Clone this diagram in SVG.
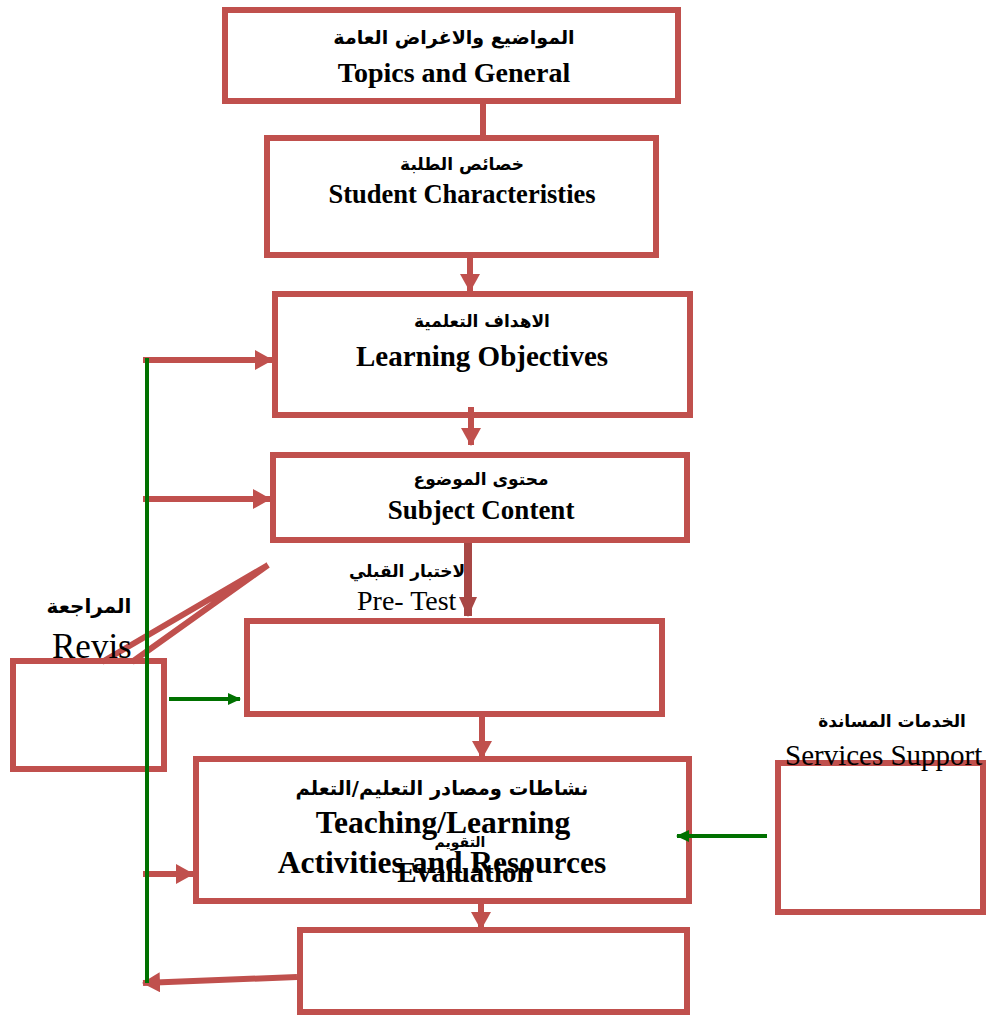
<svg xmlns="http://www.w3.org/2000/svg" width="986" height="1017" viewBox="0 0 986 1017">
<defs>
<style>
.box{fill:#fff;stroke:#c0504d;stroke-width:6}
.red{fill:none;stroke:#c0504d;stroke-width:6}
.grn{fill:none;stroke:#007100;stroke-width:4}
.en{font-family:"Liberation Serif","Times New Roman",serif;font-weight:bold;fill:#000;text-anchor:middle}
.enr{font-family:"Liberation Serif","Times New Roman",serif;fill:#000}
.ar{font-family:"DejaVu Sans",sans-serif;font-weight:bold;fill:#000;text-anchor:middle}
</style>
<marker id="ahr" markerUnits="userSpaceOnUse" viewBox="0 0 18 20" markerWidth="18" markerHeight="20" refX="17" refY="10" orient="auto"><path d="M0,0 L18,10 L0,20 z" fill="#c0504d"/></marker>
<marker id="ahd" markerUnits="userSpaceOnUse" viewBox="0 0 20 18" markerWidth="20" markerHeight="18" refX="19" refY="9" orient="auto"><path d="M0,0 L20,9 L0,18 z" fill="#a84745"/></marker>
<marker id="ahg" markerUnits="userSpaceOnUse" viewBox="0 0 13 12" markerWidth="13" markerHeight="12" refX="12" refY="6" orient="auto"><path d="M0,0 L13,6 L0,12 z" fill="#007100"/></marker>
</defs>
<rect width="986" height="1017" fill="#fff"/>

<g id="revis">
<rect class="box" x="13" y="661" width="151" height="108"/>
<polyline class="red" points="102,662 268,565 132,662" stroke-linejoin="miter"/>
<text class="ar" x="89" y="613" font-size="20">المراجعة</text>
<text class="enr" x="52" y="658" font-size="35">Revis</text>
</g>

<g id="n1">
<rect class="box" x="225" y="10" width="453" height="91"/>
<text class="ar" x="454" y="44" font-size="19">المواضيع والاغراض العامة</text>
<text class="en" x="454" y="82" font-size="28">Topics and General</text>
</g>

<g id="n2">
<rect class="box" x="267" y="138" width="389" height="117"/>
<text class="ar" x="462" y="170" font-size="17">خصائص الطلبة</text>
<text class="en" x="462" y="203" font-size="26.5">Student Characteristies</text>
</g>

<g id="n3">
<rect class="box" x="275" y="294" width="415" height="121"/>
<text class="ar" x="482" y="327" font-size="17">الاهداف التعلمية</text>
<text class="en" x="482" y="366" font-size="29">Learning Objectives</text>
</g>

<g id="n4">
<rect class="box" x="273" y="455" width="414" height="85"/>
<text class="ar" x="481" y="485" font-size="17">محتوى الموضوع</text>
<text class="en" x="481" y="519" font-size="27">Subject Content</text>
</g>

<g id="pretest">
<text class="ar" x="410" y="577" font-size="17">الاختبار القبلي</text>
<text class="enr" x="357" y="610" font-size="28">Pre- Test</text>
</g>

<g id="n5">
<rect class="box" x="247" y="621" width="415" height="93"/>
</g>

<g id="n6">
<rect class="box" x="196" y="759" width="493" height="142"/>
<text class="ar" x="442" y="795" font-size="19.5">نشاطات ومصادر التعليم/التعلم</text>
<text class="en" x="443" y="833" font-size="31.5">Teaching/Learning</text>
<text class="ar" x="460" y="847" font-size="14">التقويم</text>
<text class="en" x="442" y="873" font-size="31.5">Activities and Resources</text>
<text class="en" x="465" y="882" font-size="29">Evaluation</text>
</g>

<g id="n7">
<rect class="box" x="300" y="930" width="387" height="82"/>
</g>

<g id="services">
<rect class="box" x="778" y="763" width="205" height="149"/>
<text class="ar" x="892" y="727" font-size="17">الخدمات  المساندة</text>
<text class="enr" x="785" y="765" font-size="29">Services Support</text>
</g>

<g id="connectors">
<line class="red" x1="483" y1="104" x2="483" y2="137"/>
<line class="red" x1="470" y1="258" x2="470" y2="291" marker-end="url(#ahr)"/>
<line class="red" x1="471" y1="407" x2="471" y2="445" marker-end="url(#ahr)"/>
<line x1="468" y1="543" x2="468" y2="616" stroke="#a84745" stroke-width="8" marker-end="url(#ahd)"/>
<line class="red" x1="482" y1="717" x2="482" y2="758" marker-end="url(#ahr)"/>
<line class="red" x1="481" y1="903" x2="481" y2="929" marker-end="url(#ahr)"/>
<line class="red" x1="143" y1="360" x2="272" y2="360" marker-end="url(#ahr)"/>
<line class="red" x1="143" y1="499" x2="270" y2="499" marker-end="url(#ahr)"/>
<line class="red" x1="143" y1="874" x2="193" y2="874" marker-end="url(#ahr)"/>
<line class="red" x1="297" y1="977" x2="143" y2="983" marker-end="url(#ahr)"/>
<line class="grn" x1="147" y1="358" x2="147" y2="983"/>
<line class="grn" x1="169" y1="699" x2="240" y2="699" marker-end="url(#ahg)"/>
<line class="grn" x1="767" y1="836" x2="677" y2="836" marker-end="url(#ahg)"/>
</g>
</svg>
